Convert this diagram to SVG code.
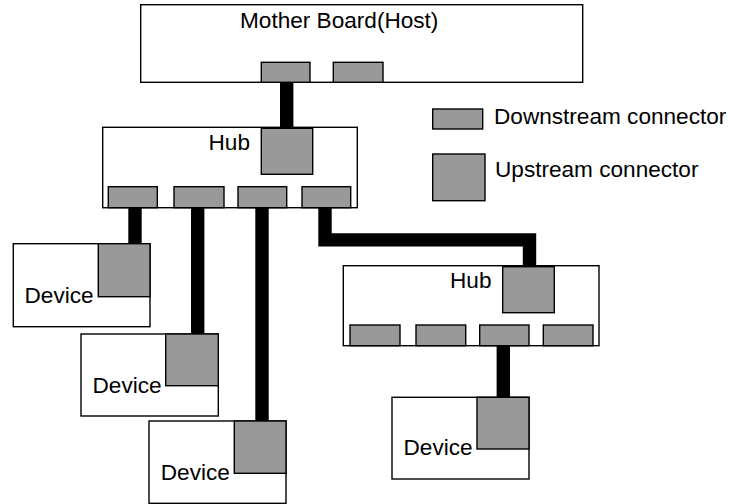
<svg xmlns="http://www.w3.org/2000/svg" width="730" height="504" viewBox="0 0 730 504">
<style>
.box{fill:#fff;stroke:#000;stroke-width:1.4}
.con{fill:#999;stroke:#000;stroke-width:1.4}
.cable{fill:none;stroke:#000;stroke-width:13.4;stroke-linejoin:miter}
.t{font-family:"Liberation Sans",Arial,sans-serif;font-size:22.6px;fill:#000}
</style>
<rect width="730" height="504" fill="#fff"/>
<g id="connectors">
<path class="cable" d="M286.7,82 V128"/>
<path class="cable" d="M135,207 V244"/>
<path class="cable" d="M197.7,207 V334"/>
<path class="cable" d="M262,207 V421"/>
<path class="cable" d="M325,207 V239.9 H529.5 V266"/>
<path class="cable" d="M503.3,345 V397.5"/>
</g>
<g id="host">
<rect class="box" x="140.7" y="4.7" width="442" height="77.6"/>
<text class="t" x="240" y="28">Mother Board(Host)</text>
<rect class="con" x="261.3" y="62.3" width="48.7" height="20"/>
<rect class="con" x="333.3" y="62.3" width="49.7" height="20"/>
</g>
<g id="hub1">
<rect class="box" x="102.7" y="127.3" width="254.6" height="80.4"/>
<text class="t" x="208.5" y="150">Hub</text>
<rect class="con" x="261.3" y="128.3" width="51.4" height="46"/>
<rect class="con" x="108.3" y="186.7" width="49" height="21"/>
<rect class="con" x="174" y="186.7" width="50" height="21"/>
<rect class="con" x="238" y="186.7" width="48.7" height="21"/>
<rect class="con" x="302" y="186.7" width="48.7" height="21"/>
</g>
<g id="hub2">
<rect class="box" x="343.3" y="265.7" width="255.7" height="80"/>
<text class="t" x="450" y="288.3">Hub</text>
<rect class="con" x="502.7" y="266.7" width="51.6" height="46"/>
<rect class="con" x="350" y="325" width="50" height="20.7"/>
<rect class="con" x="416" y="325" width="49.7" height="20.7"/>
<rect class="con" x="479.7" y="325" width="49.3" height="20.7"/>
<rect class="con" x="543.3" y="325" width="49.7" height="20.7"/>
</g>
<g id="device1">
<rect class="box" x="13.3" y="243.7" width="136.7" height="83"/>
<rect class="con" x="98.3" y="243.7" width="51.7" height="53"/>
<text class="t" x="24.5" y="302.7">Device</text>
</g>
<g id="device2">
<rect class="box" x="81" y="334" width="137.3" height="82"/>
<rect class="con" x="165.7" y="334" width="52.6" height="51.7"/>
<text class="t" x="92.5" y="392.7">Device</text>
</g>
<g id="device3">
<rect class="box" x="149" y="421" width="137" height="82.3"/>
<rect class="con" x="234.3" y="421" width="51.7" height="52.3"/>
<text class="t" x="160.8" y="480">Device</text>
</g>
<g id="device4">
<rect class="box" x="392" y="397.3" width="137" height="81.7"/>
<rect class="con" x="477" y="397.3" width="52" height="51.7"/>
<text class="t" x="403.5" y="455">Device</text>
</g>
<g id="legend">
<rect class="con" x="432.7" y="109" width="50" height="20"/>
<text class="t" x="494" y="124.2">Downstream connector</text>
<rect class="con" x="432.7" y="154" width="52.3" height="46.7"/>
<text class="t" x="495" y="177.3">Upstream connector</text>
</g>
</svg>
